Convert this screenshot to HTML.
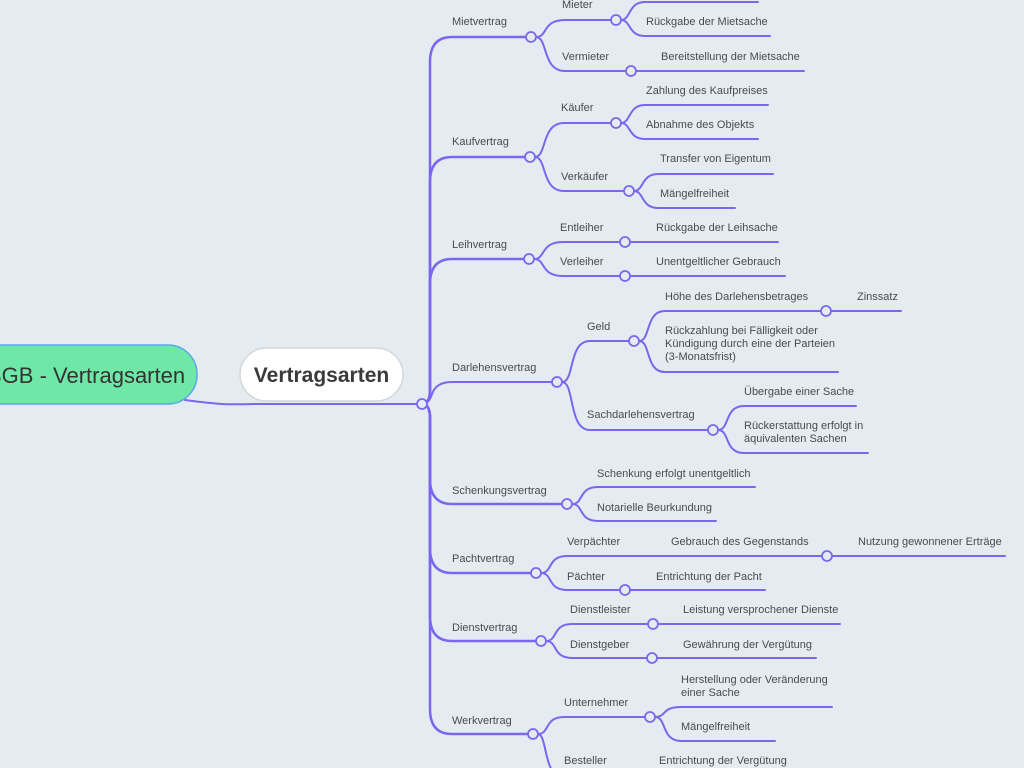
<!DOCTYPE html>
<html><head><meta charset="utf-8"><style>
html,body{margin:0;padding:0;background:#e5ecf1;width:1024px;height:768px;overflow:hidden}
svg{display:block}
text{font-family:"Liberation Sans",sans-serif;font-size:11px;fill:#4a4a4a}
</style></head><body>
<svg width="1024" height="768" viewBox="0 0 1024 768">
<g fill="none" stroke="#7b66ec" stroke-width="2" stroke-linecap="round">
<path d="M185 400 C230 406 230 404 260 404 L422 404" />
<path stroke-width="2.5" d="M422 404 Q430 404 430 390 L430 62 Q430 37 452 37 L525 37"/>
<path stroke-width="2.5" d="M422 404 Q430 404 430 390 L430 182 Q430 157 452 157 L525 157"/>
<path stroke-width="2.5" d="M422 404 Q430 404 430 390 L430 284 Q430 259 452 259 L524 259"/>
<path d="M422 404 Q429 404 432 394 Q436 382 452 382 L552 382"/>
<path stroke-width="2.5" d="M422 404 Q430 404 430 418 L430 479 Q430 504 452 504 L562 504"/>
<path stroke-width="2.5" d="M422 404 Q430 404 430 418 L430 548 Q430 573 452 573 L531 573"/>
<path stroke-width="2.5" d="M422 404 Q430 404 430 418 L430 616 Q430 641 452 641 L536 641"/>
<path stroke-width="2.5" d="M422 404 Q430 404 430 418 L430 709 Q430 734 452 734 L528 734"/>
<path d="M536 37 C548 37 542 20 565 20 L611 20"/>
<path d="M536 37 C548 37 542 71 565 71 L626 71"/>
<path d="M621 20 C631 20 628 2 645 2 L758 2"/>
<path d="M621 20 C631 20 628 36 645 36 L770 36"/>
<path d="M636 71 L804 71"/>
<path d="M535 157 C547 157 541 123 564 123 L611 123"/>
<path d="M535 157 C547 157 541 191 564 191 L624 191"/>
<path d="M621 123 C631 123 628 105 645 105 L768 105"/>
<path d="M621 123 C631 123 628 139 645 139 L758 139"/>
<path d="M634 191 C644 191 641 174 658 174 L773 174"/>
<path d="M634 191 C644 191 641 208 658 208 L735 208"/>
<path d="M534 259 C546 259 540 242 563 242 L620 242"/>
<path d="M534 259 C546 259 540 276 563 276 L620 276"/>
<path d="M630 242 L778 242"/>
<path d="M630 276 L785 276"/>
<path d="M562 382 C575 382 568 341 590 341 L629 341"/>
<path d="M562 382 C575 382 568 430 590 430 L708 430"/>
<path d="M639 341 C651 341 645 311 665 311 L821 311"/>
<path d="M639 341 C651 341 645 372 665 372 L838 372"/>
<path d="M831 311 L901 311"/>
<path d="M718 430 C730 430 724 406 744 406 L856 406"/>
<path d="M718 430 C730 430 724 453 744 453 L868 453"/>
<path d="M572 504 C584 504 578 487 598 487 L755 487"/>
<path d="M572 504 C584 504 578 521 598 521 L716 521"/>
<path d="M541 573 C553 573 547 556 567 556 L822 556"/>
<path d="M541 573 C553 573 547 590 567 590 L620 590"/>
<path d="M832 556 L1005 556"/>
<path d="M630 590 L765 590"/>
<path d="M546 641 C558 641 552 624 572 624 L648 624"/>
<path d="M546 641 C558 641 552 658 572 658 L647 658"/>
<path d="M658 624 L840 624"/>
<path d="M657 658 L816 658"/>
<path d="M538 734 C550 734 544 717 564 717 L645 717"/>
<path d="M538 734 C547 734 544 775 560 775 L640 775"/>
<path d="M655 717 C667 717 661 707 681 707 L832 707"/>
<path d="M655 717 C667 717 661 741 681 741 L775 741"/>
</g>
<g fill="#e5ecf1" stroke="#7b66ec" stroke-width="1.8">
<circle cx="422" cy="404" r="5"/>
<circle cx="531" cy="37" r="5"/><circle cx="530" cy="157" r="5"/><circle cx="529" cy="259" r="5"/>
<circle cx="557" cy="382" r="5"/><circle cx="567" cy="504" r="5"/><circle cx="536" cy="573" r="5"/>
<circle cx="541" cy="641" r="5"/><circle cx="533" cy="734" r="5"/>
<circle cx="616" cy="20" r="5"/><circle cx="631" cy="71" r="5"/>
<circle cx="616" cy="123" r="5"/><circle cx="629" cy="191" r="5"/>
<circle cx="625" cy="242" r="5"/><circle cx="625" cy="276" r="5"/>
<circle cx="634" cy="341" r="5"/><circle cx="826" cy="311" r="5"/><circle cx="713" cy="430" r="5"/>
<circle cx="827" cy="556" r="5"/><circle cx="625" cy="590" r="5"/>
<circle cx="653" cy="624" r="5"/><circle cx="652" cy="658" r="5"/>
<circle cx="650" cy="717" r="5"/>
</g>
<rect x="-40" y="345" width="237" height="59" rx="29" fill="#6ee8a6" stroke="#5aa6ec" stroke-width="1.5"/>
<text x="-13" y="383" style="font-size:22px;fill:#333">BGB - Vertragsarten</text>
<rect x="240" y="348" width="163" height="53" rx="26.5" fill="#fff" stroke="#d2d6da" stroke-width="1.5"/>
<text x="321.5" y="382" text-anchor="middle" style="font-size:21px;font-weight:bold;fill:#3a3a3a">Vertragsarten</text>
<text x="452" y="25">Mietvertrag</text>
<text x="452" y="145">Kaufvertrag</text>
<text x="452" y="248">Leihvertrag</text>
<text x="452" y="371">Darlehensvertrag</text>
<text x="452" y="494">Schenkungsvertrag</text>
<text x="452" y="562">Pachtvertrag</text>
<text x="452" y="631">Dienstvertrag</text>
<text x="452" y="724">Werkvertrag</text>
<text x="562" y="8">Mieter</text>
<text x="562" y="60">Vermieter</text>
<text x="646" y="25">Rückgabe der Mietsache</text>
<text x="661" y="60">Bereitstellung der Mietsache</text>
<text x="561" y="111">Käufer</text>
<text x="561" y="180">Verkäufer</text>
<text x="646" y="94">Zahlung des Kaufpreises</text>
<text x="646" y="128">Abnahme des Objekts</text>
<text x="660" y="162">Transfer von Eigentum</text>
<text x="660" y="197">Mängelfreiheit</text>
<text x="560" y="231">Entleiher</text>
<text x="560" y="265">Verleiher</text>
<text x="656" y="231">Rückgabe der Leihsache</text>
<text x="656" y="265">Unentgeltlicher Gebrauch</text>
<text x="587" y="330">Geld</text>
<text x="587" y="418">Sachdarlehensvertrag</text>
<text x="665" y="300">Höhe des Darlehensbetrages</text>
<text x="857" y="300">Zinssatz</text>
<text x="665" y="334">Rückzahlung bei Fälligkeit oder</text>
<text x="665" y="347">Kündigung durch eine der Parteien</text>
<text x="665" y="360">(3-Monatsfrist)</text>
<text x="744" y="395">Übergabe einer Sache</text>
<text x="744" y="429">Rückerstattung erfolgt in</text>
<text x="744" y="442">äquivalenten Sachen</text>
<text x="597" y="477">Schenkung erfolgt unentgeltlich</text>
<text x="597" y="511">Notarielle Beurkundung</text>
<text x="567" y="545">Verpächter</text>
<text x="567" y="580">Pächter</text>
<text x="671" y="545">Gebrauch des Gegenstands</text>
<text x="858" y="545">Nutzung gewonnener Erträge</text>
<text x="656" y="580">Entrichtung der Pacht</text>
<text x="570" y="613">Dienstleister</text>
<text x="570" y="648">Dienstgeber</text>
<text x="683" y="613">Leistung versprochener Dienste</text>
<text x="683" y="648">Gewährung der Vergütung</text>
<text x="564" y="706">Unternehmer</text>
<text x="564" y="764">Besteller</text>
<text x="681" y="683">Herstellung oder Veränderung</text>
<text x="681" y="696">einer Sache</text>
<text x="681" y="730">Mängelfreiheit</text>
<text x="659" y="764">Entrichtung der Vergütung</text>
</svg>
</body></html>
